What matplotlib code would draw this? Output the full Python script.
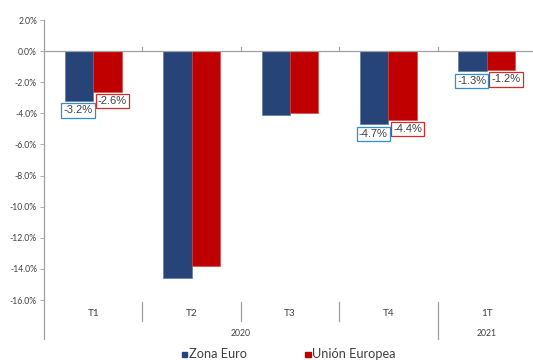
import matplotlib
matplotlib.use("Agg")
import matplotlib.pyplot as plt
from matplotlib.lines import Line2D
from matplotlib.patches import Rectangle
import matplotlib.transforms as mtransforms

# Quarterly GDP change (%), euro area vs. European Union
quarters = ["T1", "T2", "T3", "T4", "1T"]
years = ["2020", "2021"]
year_spans = [(0, 3), (4, 4)]
zona_euro = [-3.2, -14.6, -4.1, -4.7, -1.3]
union_europea = [-2.6, -13.8, -4.0, -4.4, -1.2]
labelled = [True, False, False, True, True]
series_names = ["Zona Euro", "Unión Europea"]
y_ticks = [2, 0, -2, -4, -6, -8, -10, -12, -14, -16]

BLUE = "#264478"
RED = "#C00000"
BLUE_EDGE = "#2E8FD6"
RED_EDGE = "#D42A2A"
TEXT = "#404040"
AXIS = "#A0A0A0"

plt.rcParams["font.family"] = ["Lato", "DejaVu Sans"]

fig = plt.figure(figsize=(5.33, 3.60), dpi=100)
ax = fig.add_axes([44 / 533, 1 - 300 / 360, 492 / 533, 280 / 360])

n = len(quarters)
xs = list(range(n))
w = 0.288
ax.bar([x - w / 2 for x in xs], zona_euro, width=w, color=BLUE, edgecolor="#5a6f94", linewidth=0.4, zorder=2)
ax.bar([x + w / 2 for x in xs], union_europea, width=w, color=RED, edgecolor="#d04040", linewidth=0.4, zorder=2)

ax.set_xlim(-0.5, n - 0.5)
ax.set_ylim(-16, 2)
ax.set_yticks(y_ticks)
ax.set_yticklabels([f"{v:.1f}%" for v in y_ticks], fontsize=6.2, color=TEXT)
ax.tick_params(axis="y", length=3, width=0.6, color=AXIS, pad=2)
ax.set_xticks([])
for s in ["top", "right", "bottom", "left"]:
    ax.spines[s].set_visible(False)

# zero line with small upward tick marks at category boundaries
ax.axhline(0, color=AXIS, linewidth=0.9, zorder=3)
for b in range(n + 1):
    ax.plot([b - 0.5, b - 0.5], [0, 0.25], color=AXIS, linewidth=0.8, zorder=3, clip_on=False)

# value axis line extends under the category band
ax.add_line(Line2D([0, 0], [1.0, -0.14], transform=ax.transAxes, color=AXIS,
                   linewidth=0.9, clip_on=False))

# boxed data labels under the bar ends
label_font = ["Liberation Sans", "DejaVu Sans"]
for i in xs:
    if not labelled[i]:
        continue
    t1 = mtransforms.offset_copy(ax.transData, fig=fig, x=-1, y=-4.5, units="dots")
    ax.text(i - w / 2, zona_euro[i], f"{zona_euro[i]:.1f}%", transform=t1,
            ha="center", va="top", fontsize=8.0, color=TEXT, family=label_font,
            bbox=dict(boxstyle="square,pad=0.2", fc="white", ec=BLUE_EDGE, lw=0.9), zorder=5)
    t2 = mtransforms.offset_copy(ax.transData, fig=fig, x=5, y=-4.5, units="dots")
    ax.text(i + w / 2, union_europea[i], f"{union_europea[i]:.1f}%", transform=t2,
            ha="center", va="top", fontsize=8.0, color=TEXT, family=label_font,
            bbox=dict(boxstyle="square,pad=0.2", fc="white", ec=RED_EDGE, lw=0.9), zorder=5)

# category band (quarters) and year band
blend = mtransforms.blended_transform_factory(ax.transData, fig.transFigure)
y_q = 1 - 313 / 360
y_y = 1 - 333 / 360
for i, q in enumerate(quarters):
    ax.text(i, y_q, q, transform=blend, ha="center", va="center", fontsize=7.2, color=TEXT)
for b in range(1, n):
    bottom = 339 if b == year_spans[1][0] else 321
    ax.add_line(Line2D([b - 0.5, b - 0.5], [1 - 302 / 360, 1 - bottom / 360],
                       transform=blend, color=AXIS, linewidth=0.9, clip_on=False))
for yr, (a, b) in zip(years, year_spans):
    ax.text((a + b) / 2, y_y, yr, transform=blend, ha="center", va="center", fontsize=6.2, color=TEXT)

# legend at the bottom edge
for xpx, color, name in [(181.5, BLUE, series_names[0]), (305, RED, series_names[1])]:
    fig.patches.append(Rectangle((xpx / 533, 1 - 357 / 360), 5.5 / 533, 5.5 / 360,
                                 transform=fig.transFigure, color=color))
    fig.text((xpx + 7.5) / 533, 1 - 359.5 / 360, name, ha="left", va="bottom",
             fontsize=9.2, color=TEXT)

fig.savefig("out.png", dpi=100)
